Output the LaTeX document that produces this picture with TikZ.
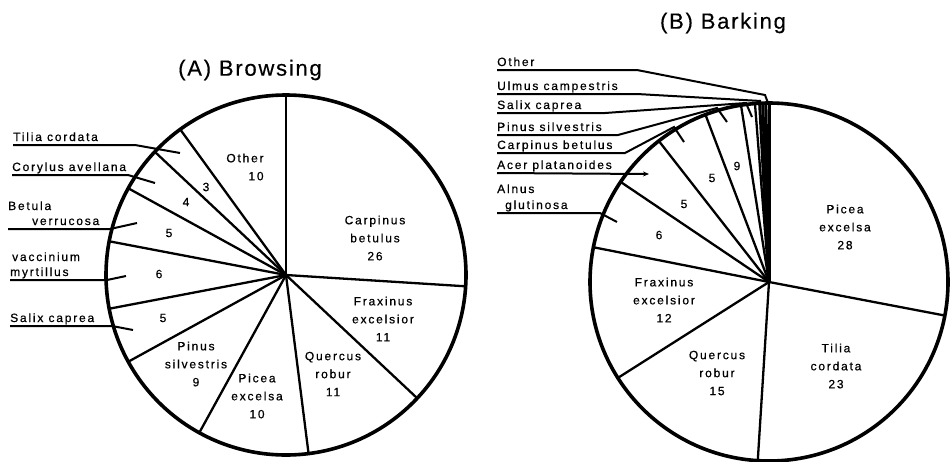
\documentclass[tikz,border=0pt]{standalone}
\usepackage{fontspec}
\setmainfont{Liberation Sans}[LetterSpace=15, FakeBold=0.6]
\newfontfamily\titlefont{Liberation Sans}[LetterSpace=8, FakeBold=0.4]
\usetikzlibrary{arrows.meta}
\tikzset{
  rim/.style={line width=3.6pt},
  spoke/.style={line width=2.3pt},
  thickspoke/.style={line width=3pt},
  lead/.style={line width=2pt},
  lbl/.style={font=\fontsize{12}{17}\selectfont, inner sep=0pt, anchor=base west},
  inl/.style={font=\fontsize{12}{18}\selectfont, align=center, inner sep=0pt},
  ttl/.style={font=\titlefont\fontsize{22}{26}\selectfont, inner sep=0pt}
}
\begin{document}
\begin{tikzpicture}[x=1pt,y=-1pt]
\useasboundingbox (0,0) rectangle (951,461);

% ---------- (A) Browsing ----------
\node[ttl] (tA) at (250,70) {(A) Browsing};
\coordinate (A) at (286,275);
\foreach \a in {90,-3.6,-43.2,-82.8,-118.8,-151.2,190.8,169.2,151.2,136.8,126}
  \draw[spoke] (A) -- ++({-(\a)}:180);
\draw[rim] (A) circle[radius=180];

\node[inl, align=right] (aOth) at (245,167) {Other\\10};
\node[inl] (a3) at (206,187) {3};
\node[inl] (a4) at (186,202) {4};
\node[inl] (a5a) at (169,233) {5};
\node[inl] (a6) at (159,274) {6};
\node[inl] (a5b) at (163,318) {5};
\node[inl] (aPin) at (196,364) {Pinus\\silvestris\\9};
\node[inl] (aPic) at (257,396) {Picea\\excelsa\\10};
\node[inl] (aQue) at (333,374) {Quercus\\robur\\11};
\node[inl] (aFra) at (383,319) {Fraxinus\\excelsior\\11};
\node[inl] (aCar) at (375,238) {Carpinus\\betulus\\26};

% left labels
\node[lbl] (lTil) at (13,141) {Tilia cordata};
\coordinate (lTilB) at (135,145); \coordinate (lTilT) at (180,153);
\draw[lead] ([yshift=-4pt]lTil.base west) -- (lTilB) -- (lTilT);

\node[lbl] (lCor) at (12,171) {Corylus avellana};
\coordinate (lCorB) at (128,175); \coordinate (lCorT) at (155,183);
\draw[lead] ([yshift=-4pt]lCor.base west) -- (lCorB) -- (lCorT);

\node[lbl] (lBet1) at (8,210) {Betula};
\node[lbl] (lBet2) at (32,225) {verrucosa};
\coordinate (lBetB) at (110,229); \coordinate (lBetT) at (137,223);
\draw[lead] (lBet1.west |- lBetB) -- (lBetB) -- (lBetT);

\node[lbl] (lVac1) at (12,261) {vaccinium};
\node[lbl] (lVac2) at (10,276) {myrtillus};
\coordinate (lVacB) at (107,280); \coordinate (lVacT) at (126,276);
\draw[lead] ([yshift=-4pt]lVac2.base west) -- (lVacB) -- (lVacT);

\node[lbl] (lSal) at (10,322) {Salix caprea};
\coordinate (lSalB) at (112,326); \coordinate (lSalT) at (133,330);
\draw[lead] ([yshift=-4pt]lSal.base west) -- (lSalB) -- (lSalT);

% ---------- (B) Barking ----------
\node[ttl] (tB) at (723,23) {(B) Barking};
\coordinate (B) at (769,282);
\foreach \a in {90,-10.8,-93.6,-147.6,168.8,146,128,110.8,99,94.5}
  \draw[spoke] (B) -- ++({-(\a)}:179);
\foreach \a in {93,92,91,90}
  \draw[thickspoke] (B) -- ++({-(\a)}:179);
\draw[rim] (B) circle[radius=179];

\node[inl] (bPic) at (845,227) {Picea\\excelsa\\28};
\node[inl] (bTil) at (836,366) {Tilia\\cordata\\23};
\node[inl] (bQue) at (717,373) {Quercus\\robur\\15};
\node[inl] (bFra) at (664,300) {Fraxinus\\excelsior\\12};
\node[inl] (b6) at (659,235) {6};
\node[inl] (b5a) at (684,204) {5};
\node[inl] (b5b) at (712,178) {5};
\node[inl] (b9) at (737,166) {9};

% right-pie labels
\node[lbl] (rOth) at (497,66) {Other};
\coordinate (rOthB) at (637,70); \coordinate (rOthC) at (765,95); \coordinate (rOthT) at (768,103);
\draw[lead] ([yshift=-4pt]rOth.base west) -- (rOthB) -- (rOthC) -- (rOthT);

\node[lbl] (rUlm) at (497,90) {Ulmus campestris};
\coordinate (rUlmB) at (637,94); \coordinate (rUlmT) at (761,101);
\draw[lead] ([yshift=-4pt]rUlm.base west) -- (rUlmB) -- (rUlmT);

\node[lbl] (rSal) at (497,109) {Salix caprea};
\coordinate (rSalB) at (605,113); \coordinate (rSalC) at (746,103); \coordinate (rSalT) at (752,117);
\draw[lead] ([yshift=-4pt]rSal.base west) -- (rSalB) -- (rSalC) -- (rSalT);

\node[lbl] (rPin) at (497,131) {Pinus silvestris};
\coordinate (rPinB) at (618,135); \coordinate (rPinC) at (717,108); \coordinate (rPinT) at (727,122);
\draw[lead] ([yshift=-4pt]rPin.base west) -- (rPinB) -- (rPinC) -- (rPinT);

\node[lbl] (rCar) at (497,149) {Carpinus betulus};
\coordinate (rCarB) at (625,153); \coordinate (rCarC) at (674,127); \coordinate (rCarT) at (684,142);
\draw[lead] ([yshift=-4pt]rCar.base west) -- (rCarB) -- (rCarC) -- (rCarT);

\node[lbl] (rAce) at (497,169) {Acer platanoides};
\coordinate (rAceT) at (649,174);
\draw[lead,-{Stealth[length=6pt,width=5pt]}] ([yshift=-4pt]rAce.base west) -- (rAceT);

\node[lbl] (rAln1) at (497,193) {Alnus};
\node[lbl] (rAln2) at (505,209) {glutinosa};
\coordinate (rAlnB) at (600,213); \coordinate (rAlnT) at (617,222);
\draw[lead] (rAln1.west |- rAlnB) -- (rAlnB) -- (rAlnT);
\end{tikzpicture}
\end{document}
